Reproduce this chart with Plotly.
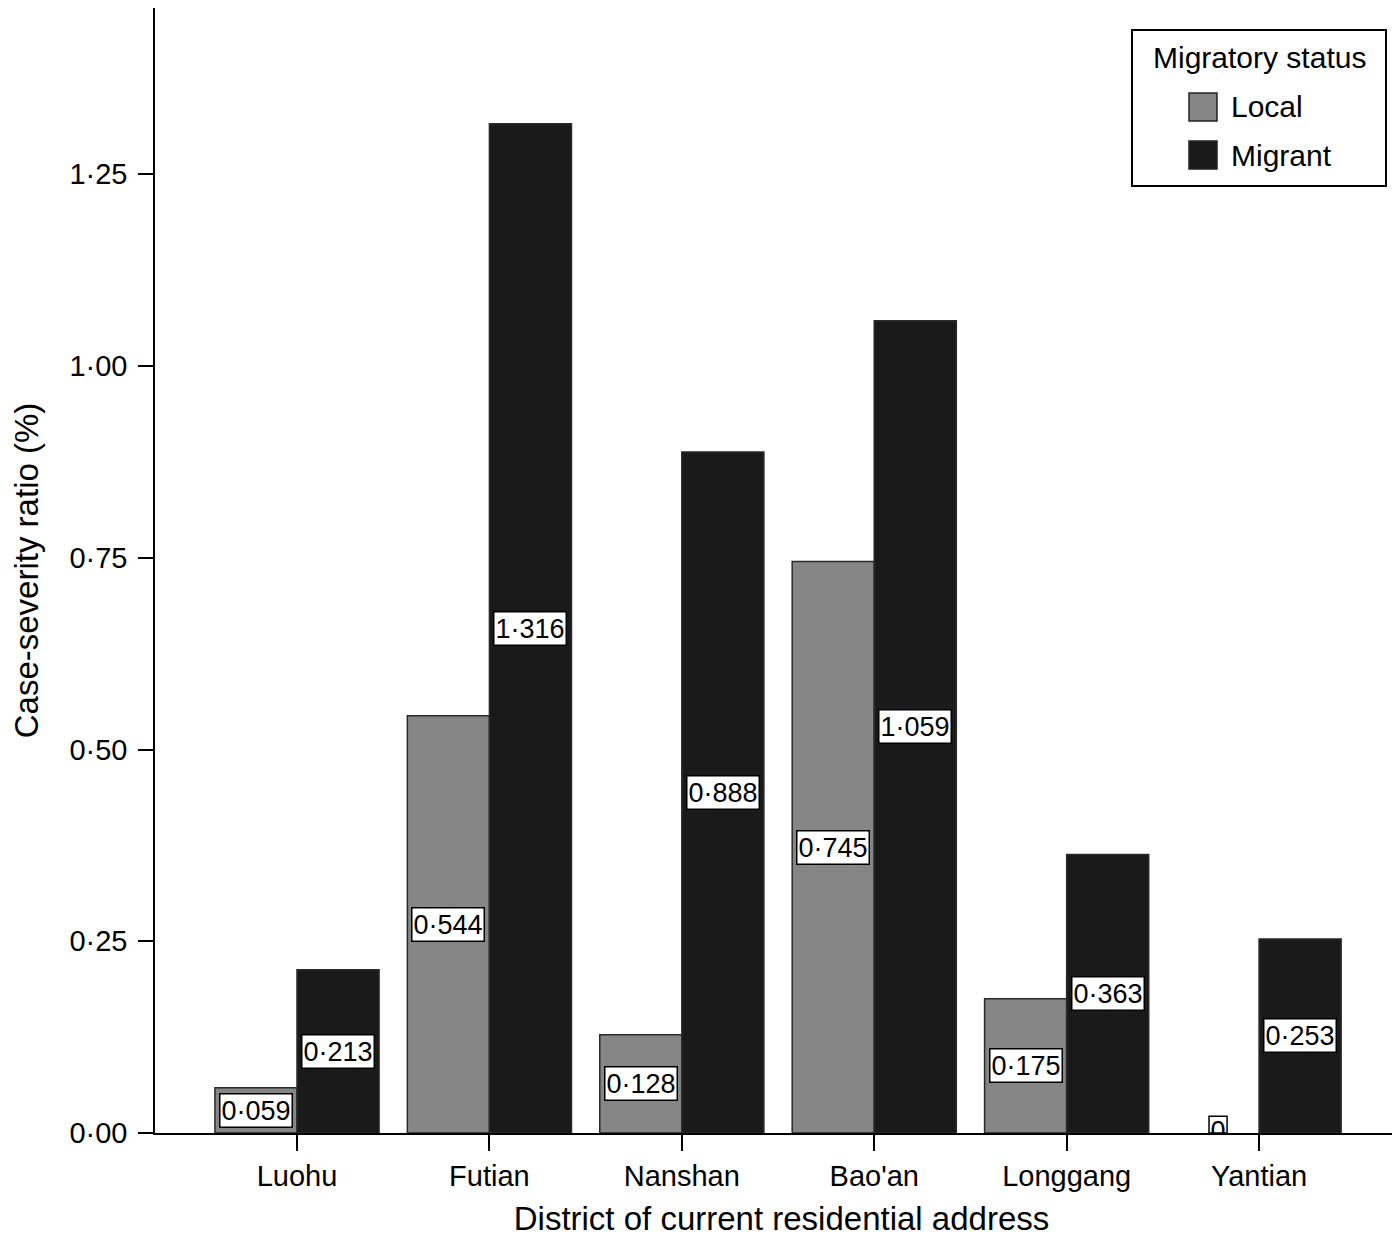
import plotly.graph_objects as go

districts = ["Luohu", "Futian", "Nanshan", "Bao'an", "Longgang", "Yantian"]
local_vals = [0.059, 0.544, 0.128, 0.745, 0.175, 0.0]
migrant_vals = [0.213, 1.316, 0.888, 1.059, 0.363, 0.253]
y_ticks = [0, 0.25, 0.5, 0.75, 1.0, 1.25]
y_tick_text = ["0·00", "0·25", "0·50", "0·75", "1·00", "1·25"]

FONT = "Liberation Sans, Arial, sans-serif"
LOCAL_C = "#868686"
MIGR_C = "#1a1a1a"
EDGE_C = "#2a2a2a"

def fmt(v):
    if v == 0:
        return "0"
    return f"{v:.3f}".replace(".", "·")

xs = list(range(len(districts)))
bargap = 0.147
half_w = (1 - bargap) / 4  # center offset of each bar within group

fig = go.Figure()
fig.add_trace(go.Bar(name="Local", x=xs, y=local_vals, showlegend=False,
                     marker=dict(color=LOCAL_C,
                                 line=dict(color=EDGE_C, width=[1.5 if v > 0 else 0 for v in local_vals]))))
fig.add_trace(go.Bar(name="Migrant", x=xs, y=migrant_vals, showlegend=False,
                     marker=dict(color=MIGR_C,
                                 line=dict(color=EDGE_C, width=[1.5 if v > 0 else 0 for v in migrant_vals]))))

annotations = []
zero_x, zero_y = [], []
for i in xs:
    for v, off in ((local_vals[i], -half_w), (migrant_vals[i], half_w)):
        if v == 0:
            zero_x.append(i + off)
            zero_y.append(v)
            continue
        annotations.append(dict(x=i + off, y=v / 2, xref="x", yref="y", text=fmt(v),
                                showarrow=False,
                                font=dict(family=FONT, size=27, color="black"),
                                bgcolor="white", bordercolor="black", borderwidth=1.5,
                                borderpad=1))

shapes = []
for zx, zy in zip(zero_x, zero_y):
    shapes.append(dict(type="rect", xref="x", yref="y", x0=zx - 0.047, x1=zx + 0.047,
                       y0=zy, y1=zy + 0.022, line=dict(color="black", width=1.5),
                       fillcolor="rgba(255,255,255,0)", layer="above"))
fig.add_trace(go.Scatter(x=zero_x, y=zero_y, mode="text", text=[fmt(0)] * len(zero_x),
                         cliponaxis=True, textfont=dict(family=FONT, size=27, color="black"),
                         textposition="middle center", showlegend=False, hoverinfo="skip"))

# page-pixel -> paper helpers (plot area spans page x 155..1408, y 8..1133)
PX0, PX1, PY0, PY1 = 155, 1408, 8, 1133
def px(x):
    return (x - PX0) / (PX1 - PX0)
def py(y):
    return (PY1 - y) / (PY1 - PY0)

# manual legend
shapes.append(dict(type="rect", xref="paper", yref="paper", x0=px(1132), x1=px(1386),
                   y0=py(186), y1=py(30), line=dict(color="black", width=2),
                   fillcolor="white", layer="above"))
legend_items = [("Local", LOCAL_C, 107), ("Migrant", MIGR_C, 155)]
for name, col, cy in legend_items:
    shapes.append(dict(type="rect", xref="paper", yref="paper", x0=px(1189), x1=px(1217),
                       y0=py(cy + 14), y1=py(cy - 14), line=dict(color="#222", width=1.5),
                       fillcolor=col, layer="above"))
    annotations.append(dict(x=px(1229), y=py(cy), xref="paper", yref="paper", text=name,
                            showarrow=False, xanchor="left", yanchor="middle",
                            font=dict(family=FONT, size=30, color="black")))
annotations.append(dict(x=px(1259), y=py(58), xref="paper", yref="paper",
                        text="Migratory status", showarrow=False, xanchor="center",
                        yanchor="middle", font=dict(family=FONT, size=30, color="black")))

fig.update_layout(
    width=1400, height=1244,
    margin=dict(l=147, r=0, t=0, b=119),
    paper_bgcolor="white", plot_bgcolor="white",
    barmode="group", bargap=bargap, bargroupgap=0,
    font=dict(family=FONT, size=29, color="black"),
    annotations=annotations, shapes=shapes, showlegend=False,
    xaxis=dict(title=dict(text="District of current residential address", font=dict(size=33), standoff=16),
               range=[-0.738, 5.774], tickvals=xs, ticktext=districts,
               showline=True, linecolor="black", linewidth=1.5,
               ticks="outside", ticklen=16, tickwidth=1.5, tickcolor="black",
               tickfont=dict(size=29), showgrid=False, zeroline=False),
    yaxis=dict(title=dict(text="Case-severity ratio (%)", font=dict(size=33), standoff=24),
               range=[0, 1.4668], tickvals=y_ticks, ticktext=y_tick_text,
               showline=True, linecolor="black", linewidth=1.5,
               ticks="outside", ticklen=15, tickwidth=1.5, tickcolor="black",
               ticklabelstandoff=5,
               tickfont=dict(size=29), showgrid=False, zeroline=False),
)
fig.write_html("out.html")
